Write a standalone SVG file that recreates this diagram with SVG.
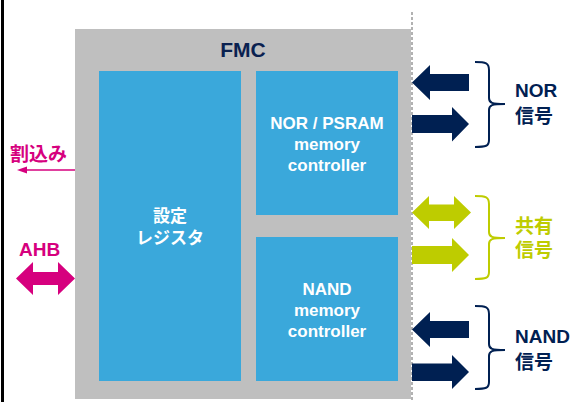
<svg xmlns="http://www.w3.org/2000/svg" width="573" height="402" viewBox="0 0 573 402">
<style>
.blk{fill:#3AA8DB}
.wt{fill:#FFFFFF;font-family:"Liberation Sans",Arial,sans-serif;font-weight:bold;font-size:17px;text-anchor:middle}
.jwt{fill:#FFFFFF;font-family:"Liberation Sans","Noto Sans CJK JP",sans-serif;font-weight:bold;font-size:17px;text-anchor:middle}
.navy{fill:#002052}
.lime{fill:#BECC00}
.mag{fill:#D6007E}
.lbl{font-family:"Liberation Sans","Noto Sans CJK JP",sans-serif;font-weight:bold;font-size:19px}
.brace{fill:none;stroke-width:2}
</style>
<rect x="1" y="0" width="3" height="402" fill="#000000"/>
<g id="fmc">
<rect x="75" y="29" width="336" height="370" fill="#BFBFBF"/>
<text x="243" y="57" fill="#0A2150" font-family="'Liberation Sans',Arial,sans-serif" font-weight="bold" font-size="21px" text-anchor="middle">FMC</text>
</g>
<line x1="412" y1="12" x2="412" y2="402" stroke="#999999" stroke-width="1.5" stroke-dasharray="3,2"/>
<g id="reg">
<rect class="blk" x="99" y="71" width="142" height="310"/>
<text class="jwt" x="170" y="222">設定</text>
<text class="jwt" x="170" y="244">レジスタ</text>
</g>
<g id="nor-ctrl">
<rect class="blk" x="256" y="71" width="142" height="144"/>
<text class="wt" x="327" y="129">NOR / PSRAM</text>
<text class="wt" x="327" y="150">memory</text>
<text class="wt" x="327" y="171">controller</text>
</g>
<g id="nand-ctrl">
<rect class="blk" x="256" y="237" width="142" height="144"/>
<text class="wt" x="327" y="295">NAND</text>
<text class="wt" x="327" y="316">memory</text>
<text class="wt" x="327" y="337">controller</text>
</g>
<g id="connectors">
<line x1="75" y1="170" x2="24" y2="170" stroke="#D6007E" stroke-width="1.5"/>
<polygon class="mag" points="17,170 27,166.5 27,173.5"/>
<polygon class="mag" points="16,278.5 33,262 33,272 58,272 58,262 75,278.5 58,295 58,285 33,285 33,295"/>
<polygon class="navy" points="412,82.5 430,65 430,74 469,74 469,91 430,91 430,100"/>
<polygon class="navy" points="412,115 452,115 452,107 469,124 452,141.5 452,133 412,133"/>
<polygon class="lime" points="412,212.5 429,196 429,204.5 454,204.5 454,196 471,212.5 454,229 454,221 429,221 429,229"/>
<polygon class="lime" points="412,246 452,246 452,238 469,255 452,272 452,264 412,264"/>
<polygon class="navy" points="412,329.5 430,312 430,321 469,321 469,338 430,338 430,347"/>
<polygon class="navy" points="412,363.5 452,363.5 452,355 469,372 452,389 452,381 412,381"/>
</g>
<g id="int-label"><text class="lbl mag" x="10" y="161">割込み</text></g>
<g id="ahb-label"><text class="lbl mag" x="19" y="256" font-size="18px">AHB</text></g>
<g id="nor-sig">
<path class="brace" stroke="#002052" d="M475,62 C486,62 489,63 489,70 L489,98 C489,103 492,104 505,104 M505,104 C492,104 489,105 489,110 L489,140 C489,146 486,147 475,147"/>
<text class="lbl navy" x="515" y="97">NOR</text>
<text class="lbl navy" x="515" y="123">信号</text>
</g>
<g id="shared-sig">
<path class="brace" stroke="#BECC00" d="M475,196 C486,196 489,197 489,204 L489,232 C489,237 492,238 505,238 M505,238 C492,238 489,239 489,244 L489,272 C489,278 486,279 475,279"/>
<text class="lbl lime" x="515" y="233">共有</text>
<text class="lbl lime" x="515" y="257">信号</text>
</g>
<g id="nand-sig">
<path class="brace" stroke="#002052" d="M475,306 C486,306 489,307 489,314 L489,344 C489,349 492,350 505,350 M505,350 C492,350 489,351 489,356 L489,382 C489,388 486,389 475,389"/>
<text class="lbl navy" x="515" y="343">NAND</text>
<text class="lbl navy" x="515" y="369">信号</text>
</g>
</svg>
